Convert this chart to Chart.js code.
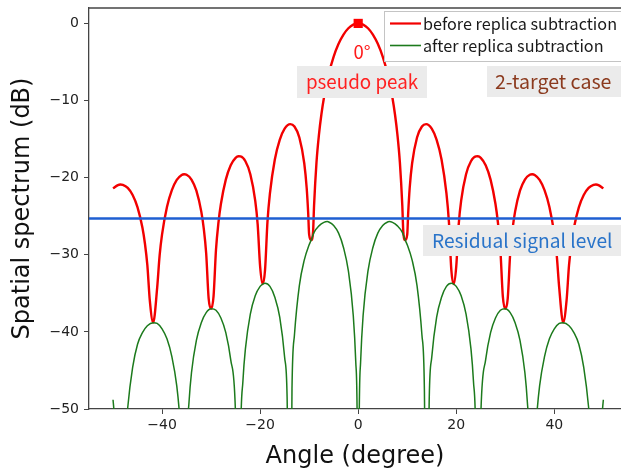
<!DOCTYPE html>
<html lang="en">
<head>
<meta charset="UTF-8">
<title>Spatial spectrum before / after replica subtraction</title>
<script src="https://cdn.jsdelivr.net/npm/chart.js"></script>
<style>
    html, body { margin: 0; padding: 0; background: #fff; overflow: hidden; }
    #wrap { width: 621px; height: 471px; position: relative; }
</style>
</head>
<body>
<div id="wrap"><canvas id="spectrumChart"></canvas></div>
<script>
    // angle (degree) and level (dB)
    const beforeAngles = [-50,-49,-48.5,-48,-47,-46,-45,-44,-43.5,-43,-42.5,-41.81,-41,-40.5,-40,-39,-38,-37,-36,-35.5,-35,-34,-33,-32,-31.5,-31,-30.5,-30,-29.5,-29,-28.5,-28,-27,-26,-25,-24.4,-24,-23,-22,-21,-20.5,-20,-19.47,-19,-18.5,-18,-17,-16,-15,-13.85,-13,-12,-11,-10.5,-10.2,-10,-9.59,-9.2,-9,-8.5,-8,-7.5,-7,-6,-5,-4,-3,-2,-1,
        0,1,2,3,4,5,6,7,7.5,8,8.5,9,9.2,9.59,10,10.2,10.5,11,12,13,13.85,15,16,17,18,18.5,19,19.47,20,20.5,21,22,23,24,24.4,25,26,27,28,28.5,29,29.5,30,30.5,31,31.5,32,33,34,35,35.5,36,37,38,39,40,40.5,41,41.81,42.5,43,43.5,44,45,46,47,48,48.5,49,50];
    const beforeLevels = [-21.39,-20.96,-20.89,-20.93,-21.33,-22.25,-23.85,-26.5,-28.51,-31.35,-35.92,-38.8,-34.29,-30.12,-27.36,-23.8,-21.62,-20.3,-19.65,-19.56,-19.62,-20.24,-21.69,-24.41,-26.58,-29.84,-35.65,-37.0,-35.4,-29.35,-25.84,-23.42,-20.25,-18.39,-17.43,-17.23,-17.25,-17.87,-19.55,-22.97,-26.05,-31.5,-33.8,-32.0,-25.7,-22.04,-17.64,-15.1,-13.65,-13.06,-13.37,-14.79,-18.13,-21.37,-24.55,-27.4,-28.1,-27.0,-23.65,-17.99,-14.41,-11.78,-9.7,-6.57,-4.31,-2.65,-1.45,-0.63,-0.16,
        0,-0.16,-0.63,-1.45,-2.65,-4.31,-6.57,-9.7,-11.78,-14.41,-17.99,-23.65,-27.0,-28.1,-27.4,-24.55,-21.37,-18.13,-14.79,-13.37,-13.06,-13.65,-15.1,-17.64,-22.04,-25.7,-32.0,-33.8,-31.5,-26.05,-22.97,-19.55,-17.87,-17.25,-17.23,-17.43,-18.39,-20.25,-23.42,-25.84,-29.35,-35.4,-37.0,-35.65,-29.84,-26.58,-24.41,-21.69,-20.24,-19.62,-19.56,-19.65,-20.3,-21.62,-23.8,-27.36,-30.12,-34.29,-38.8,-35.92,-31.35,-28.51,-26.5,-23.85,-22.25,-21.33,-20.93,-20.89,-20.96,-21.39];

    const afterAngles = [-50,-49.7,-49.3,-48.5,-47.5,-47,-46,-45,-44,-43,-41.8,-41,-40,-39,-38,-37,-36.4,-36,-35.4,-35,-34.5,-34,-33,-32,-31,-30,-29,-28,-27,-26,-25,-24.3,-24,-23.5,-23,-22,-21,-20,-19.47,-19,-18,-17,-16,-15,-14.5,-13.9,-13.5,-13,-12,-11,-10,-9.59,-9,-8,-7,-6.3,-6,-5,-4,-3,-2,-1,-0.5,-0.2,
        0,0.2,0.5,1,2,3,4,5,6,6.3,7,8,9,9.59,10,11,12,13,13.5,13.9,14.5,15,16,17,18,19,19.47,20,21,22,23,23.5,24,24.3,25,26,27,28,29,30,31,32,33,34,34.5,35,35.4,36,36.4,37,38,39,40,41,41.8,43,44,45,46,47,47.5,48.5,49.3,49.7,50];
    const afterLevels = [-48.8,-51,-55,-80,-54,-49.8,-44.6,-41.6,-40.1,-39.2,-38.8,-38.9,-39.6,-40.9,-43.2,-47.0,-51.0,-55.3,-80,-56,-49.1,-45.3,-41.1,-38.8,-37.5,-37.0,-37.2,-38.2,-40.1,-43.6,-51.0,-80,-54.7,-46.3,-42.2,-37.7,-35.3,-34.1,-33.8,-33.7,-34.1,-35.5,-38.1,-43.3,-48.4,-80,-47.4,-40.4,-34.0,-30.7,-28.7,-28.1,-27.1,-26.25,-25.8,-25.7,-25.75,-26.2,-27.2,-29.05,-32.1,-37.9,-43.8,-51.7,
        -80,-51.7,-43.8,-37.9,-32.1,-29.05,-27.2,-26.2,-25.75,-25.7,-25.8,-26.25,-27.1,-28.1,-28.7,-30.7,-34.0,-40.4,-47.4,-80,-48.4,-43.3,-38.1,-35.5,-34.1,-33.7,-33.8,-34.1,-35.3,-37.7,-42.2,-46.3,-54.7,-80,-51.0,-43.6,-40.1,-38.2,-37.2,-37.0,-37.5,-38.8,-41.1,-45.3,-49.1,-56,-80,-55.3,-51.0,-47.0,-43.2,-40.9,-39.6,-38.9,-38.8,-39.2,-40.1,-41.6,-44.6,-49.8,-54,-80,-55,-51,-48.8];

    const residualLevel = -25.3;
    const peakAngle = 0;
    const peakLevel = 0;

    const xTicks = [-40, -20, 0, 20, 40];
    const yTicks = [0, -10, -20, -30, -40, -50];

    const seriesNames = ['before replica subtraction', 'after replica subtraction'];

    const toPoints = (xs, ys) => xs.map((x, i) => ({ x: x, y: ys[i] }));
    const minus = v => String(v).replace('-', '\u2212');

    const RED = '#f20000';
    const GREEN = '#1c7a1c';
    const BLUE = '#1f5fd2';
    const AXIS = '#444444';

    // top spine of the frame (right one is off the picture)
    const frameTop = {
        id: 'frameTop',
        afterDraw(chart) {
            const { ctx, chartArea } = chart;
            ctx.save();
            ctx.strokeStyle = AXIS;
            ctx.lineWidth = 1.3;
            ctx.beginPath();
            ctx.moveTo(chartArea.left, chartArea.top);
            ctx.lineTo(chart.width, chartArea.top);
            ctx.stroke();
            ctx.restore();
        }
    };

    // text labels with grey boxes
    const notes = [
        { text: '0°', x: 362, y: 52, align: 'center', color: '#ff1a1a', size: 18.5 },
        { text: 'pseudo peak', x: 362, y: 82, align: 'center', color: '#ff2020', size: 18.8, box: [297, 66, 130, 32] },
        { text: '2-target case', x: 495, y: 82, align: 'left', color: '#8b3a1e', size: 19.6, box: [487, 66, 140, 31] },
        { text: 'Residual signal level', x: 432, y: 241, align: 'left', color: '#2a74c9', size: 19.2, box: [423, 225, 200, 31] }
    ];

    const notesPlugin = {
        id: 'notes',
        afterDatasetsDraw(chart) {
            const ctx = chart.ctx;
            ctx.save();
            notes.forEach(n => {
                if (n.box) {
                    ctx.fillStyle = '#ebebeb';
                    ctx.fillRect(n.box[0], n.box[1], n.box[2], n.box[3]);
                }
                ctx.font = n.size + 'px "Noto Sans CJK JP", "Noto Sans", sans-serif';
                ctx.fillStyle = n.color;
                ctx.textAlign = n.align;
                ctx.textBaseline = 'middle';
                ctx.fillText(n.text, n.x, n.y);
            });
            ctx.restore();
        }
    };

    // matplotlib style legend box, top right
    const legendBox = {
        id: 'legendBox',
        afterDraw(chart) {
            const ctx = chart.ctx;
            const colors = [RED, GREEN];
            ctx.save();
            ctx.fillStyle = 'rgba(255,255,255,0.85)';
            ctx.strokeStyle = '#c4c4c4';
            ctx.lineWidth = 1;
            ctx.fillRect(384.5, 11.5, 260, 50);
            ctx.strokeRect(384.5, 11.5, 260, 50);
            ctx.font = '16.2px "Noto Sans CJK JP", "Noto Sans", sans-serif';
            ctx.textBaseline = 'middle';
            ctx.textAlign = 'left';
            seriesNames.forEach((name, i) => {
                const y = 23.5 + i * 22;
                ctx.strokeStyle = colors[i];
                ctx.lineWidth = i === 0 ? 2.2 : 1.6;
                ctx.beginPath();
                ctx.moveTo(390, y);
                ctx.lineTo(421, y);
                ctx.stroke();
                ctx.fillStyle = '#1a1a1a';
                ctx.fillText(name, 423, y);
            });
            ctx.restore();
        }
    };

    // keep the plot box exactly where the reference has it
    const noEdgePadding = s => {
        s.paddingTop = 0;
        s.paddingBottom = 0;
        s.paddingLeft = 0;
        s.paddingRight = 0;
    };

    const ctx = document.getElementById('spectrumChart').getContext('2d');
    new Chart(ctx, {
        type: 'line',
        data: {
            datasets: [
                {
                    label: 'pseudo peak',
                    data: [{ x: peakAngle, y: peakLevel }],
                    showLine: false,
                    pointStyle: 'rect',
                    pointRadius: 6.5,
                    pointBackgroundColor: '#ff0000',
                    pointBorderWidth: 0,
                    clip: false,
                    order: 0
                },
                {
                    label: 'Residual signal level',
                    data: [{ x: -60, y: residualLevel }, { x: 60, y: residualLevel }],
                    borderColor: BLUE,
                    borderWidth: 2.4,
                    pointRadius: 0,
                    order: 1
                },
                {
                    label: seriesNames[1],
                    data: toPoints(afterAngles, afterLevels),
                    borderColor: GREEN,
                    borderWidth: 1.5,
                    pointRadius: 0,
                    cubicInterpolationMode: 'monotone',
                    order: 2
                },
                {
                    label: seriesNames[0],
                    data: toPoints(beforeAngles, beforeLevels),
                    borderColor: RED,
                    borderWidth: 2.4,
                    pointRadius: 0,
                    cubicInterpolationMode: 'monotone',
                    order: 3
                }
            ]
        },
        options: {
            responsive: true,
            maintainAspectRatio: false,
            animation: false,
            devicePixelRatio: 1,
            layout: { autoPadding: false, padding: { top: 8, right: 0, bottom: 0, left: 0 } },
            plugins: {
                legend: { display: false },
                tooltip: { enabled: false }
            },
            scales: {
                x: {
                    type: 'linear',
                    min: -54.9,
                    max: 53.6,
                    afterBuildTicks: s => { s.ticks = xTicks.map(v => ({ value: v })); },
                    afterFit: s => { s.height = 62; noEdgePadding(s); },
                    grid: { drawOnChartArea: false, drawTicks: true, tickLength: 5, color: AXIS, lineWidth: 1 },
                    border: { display: true, color: AXIS, width: 1.3 },
                    ticks: {
                        callback: minus,
                        color: '#222',
                        padding: 3,
                        maxRotation: 0,
                        font: { family: 'DejaVu Sans', size: 14 }
                    },
                    title: {
                        display: true,
                        text: 'Angle (degree)',
                        color: '#111',
                        padding: { top: 0, bottom: 0 },
                        font: { family: 'DejaVu Sans', size: 24 }
                    }
                },
                y: {
                    min: -50,
                    max: 2,
                    afterBuildTicks: s => { s.ticks = yTicks.map(v => ({ value: v })); },
                    afterFit: s => { s.width = 89; noEdgePadding(s); },
                    grid: { drawOnChartArea: false, drawTicks: true, tickLength: 5, color: AXIS, lineWidth: 1 },
                    border: { display: true, color: AXIS, width: 1.3 },
                    ticks: {
                        callback: minus,
                        color: '#222',
                        padding: 5,
                        font: { family: 'DejaVu Sans', size: 14 }
                    },
                    title: {
                        display: true,
                        text: 'Spatial spectrum (dB)',
                        color: '#111',
                        padding: { top: 8, bottom: 0 },
                        font: { family: 'DejaVu Sans', size: 24 }
                    }
                }
            }
        },
        plugins: [frameTop, notesPlugin, legendBox]
    });
</script>
</body>
</html>
